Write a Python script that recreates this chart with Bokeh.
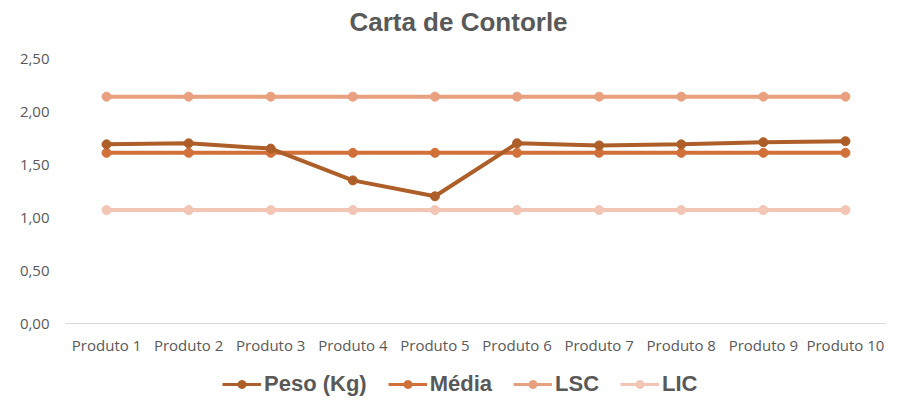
from bokeh.plotting import figure
from bokeh.layouts import column
from bokeh.models import FactorRange, Range1d, FixedTicker, Legend, LegendItem, ColumnDataSource, Label
from bokeh.embed import file_html
from bokeh.resources import INLINE

categories = ["Produto 1", "Produto 2", "Produto 3", "Produto 4", "Produto 5",
              "Produto 6", "Produto 7", "Produto 8", "Produto 9", "Produto 10"]
peso = [1.69, 1.70, 1.65, 1.35, 1.20, 1.70, 1.68, 1.69, 1.71, 1.72]
media = [1.61] * 10
lsc = [2.14] * 10
lic = [1.07] * 10
y_ticks = [0, 0.5, 1.0, 1.5, 2.0, 2.5]
y_tick_labels = ["0,00", "0,50", "1,00", "1,50", "2,00", "2,50"]
title_text = "Carta de Contorle"

series = [("LIC", lic, "#F2C5B5"), ("LSC", lsc, "#E8A07F"),
          ("Média", media, "#D2703A"), ("Peso (Kg)", peso, "#AE5E28")]
legend_order = ["Peso (Kg)", "Média", "LSC", "LIC"]

# header with title
head = figure(width=900, height=40, x_axis_type=None, y_axis_type=None,
              output_backend="svg", toolbar_location=None,
              min_border_left=0, min_border_right=0, min_border_top=0, min_border_bottom=0)
head.outline_line_color = None
head.xgrid.grid_line_color = None
head.ygrid.grid_line_color = None
head.add_layout(Label(x=393, y=19, x_units="screen", y_units="screen", text=title_text,
                      text_align="center", text_baseline="middle",
                      text_font="Liberation Sans", text_font_size="26px",
                      text_font_style="bold", text_color="#595959"))

# main chart
p = figure(width=900, height=325, x_range=FactorRange(*categories), y_range=Range1d(0, 2.5),
           output_backend="svg", toolbar_location=None,
           min_border_left=65, min_border_right=14, min_border_top=18, min_border_bottom=42)
p.outline_line_color = None
p.xgrid.grid_line_color = None
p.ygrid.grid_line_color = None

p.yaxis.ticker = FixedTicker(ticks=y_ticks)
p.yaxis.major_label_overrides = {t: l for t, l in zip(y_ticks, y_tick_labels)}
p.yaxis.axis_line_color = None
p.yaxis.major_tick_line_color = None
p.yaxis.minor_tick_line_color = None
p.yaxis.major_label_standoff = 10
p.yaxis.major_label_text_font = "Open Sans"
p.yaxis.major_label_text_font_size = "15px"
p.yaxis.major_label_text_color = "#595959"

p.xaxis.axis_line_color = "#D9D9D9"
p.xaxis.axis_line_width = 1
p.xaxis.major_tick_line_color = None
p.xaxis.minor_tick_line_color = None
p.xaxis.major_label_standoff = 5
p.xaxis.major_label_text_font = "Open Sans"
p.xaxis.major_label_text_font_size = "15px"
p.xaxis.major_label_text_color = "#595959"

for name, vals, color in series:
    src = ColumnDataSource(dict(x=categories, y=vals))
    p.line("x", "y", source=src, line_color=color, line_width=4)
    p.scatter("x", "y", source=src, size=9, fill_color=color, line_color=color)

# footer with legend (same series, drawn outside the visible range)
foot = figure(width=900, height=37, x_range=FactorRange(*categories), y_range=Range1d(10, 11),
              x_axis_type=None, y_axis_type=None,
              output_backend="svg", toolbar_location=None,
              min_border_left=0, min_border_right=0, min_border_top=0, min_border_bottom=0)
foot.outline_line_color = None
foot.xgrid.grid_line_color = None
foot.ygrid.grid_line_color = None
items = {}
for name, vals, color in series:
    src = ColumnDataSource(dict(x=categories, y=vals))
    l = foot.line("x", "y", source=src, line_color=color, line_width=3)
    s = foot.scatter("x", "y", source=src, size=7, fill_color=color, line_color=color)
    items[name] = LegendItem(label=name, renderers=[l, s])

legend = Legend(items=[items[n] for n in legend_order],
                orientation="horizontal", location=(157, 5),
                label_text_font="Liberation Sans", label_text_font_size="22px",
                label_text_font_style="bold", label_text_color="#595959",
                glyph_width=39, glyph_height=20, label_standoff=3, spacing=21,
                border_line_color=None, background_fill_alpha=0, padding=0, margin=0)
foot.add_layout(legend, "center")

layout = column(head, p, foot, spacing=0)
open("out.html", "w").write(file_html(layout, INLINE))
